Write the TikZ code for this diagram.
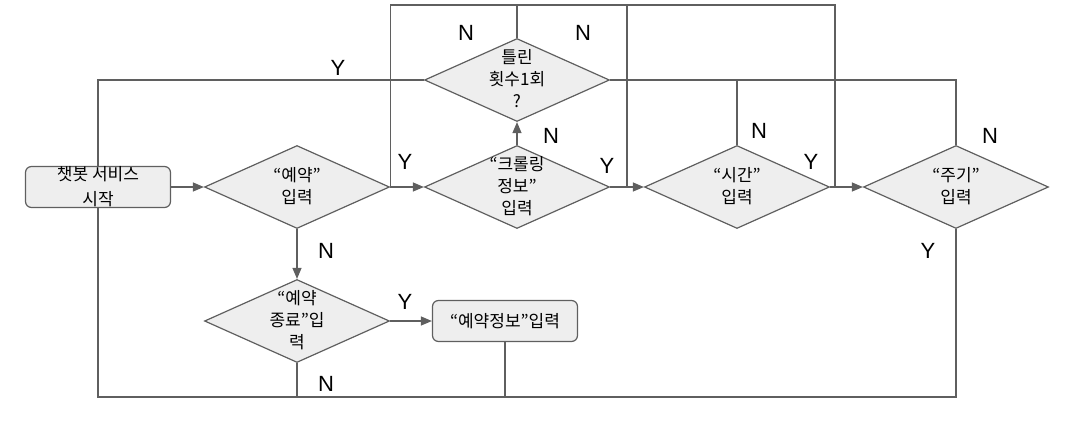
\documentclass[tikz,border=0pt]{standalone}
\usepackage{fontspec}
\setmainfont{Liberation Sans}
\newfontfamily\kr{Noto Sans CJK KR}
\usetikzlibrary{shapes.geometric,arrows.meta}
\definecolor{linegray}{HTML}{5F5F5F}
\definecolor{boxgray}{HTML}{EEEEEE}
\newcommand{\dtxt}[1]{\smash{\raisebox{-5pt}{\makebox[0pt]{\begin{tabular}{@{}c@{}}#1\end{tabular}}}}}
\begin{document}
\begin{tikzpicture}[x=1pt,y=-1pt,
				decision/.style={diamond,draw=linegray,fill=boxgray,line width=1.2pt,inner sep=0pt,
					minimum width=185pt,minimum height=83pt,font=\kr\fontsize{17}{22}\selectfont},
				startbox/.style={rectangle,rounded corners=6pt,draw=linegray,fill=boxgray,line width=1.2pt,
					minimum width=145pt,minimum height=41pt,inner sep=0pt,align=center,font=\kr\fontsize{17}{25}\selectfont},
				yn/.style={inner sep=0pt,font=\fontsize{22}{22}\selectfont},
				wire/.style={draw=linegray,line width=1.2pt},
				flow/.style={wire,-{Triangle[length=11pt,width=9pt]}}]
\useasboundingbox (0,0) rectangle (1071,421);
\node[startbox] (start) at (98,187) {챗봇 서비스\\시작};
\node[decision] (d1) at (297,187) {\dtxt{“예약”\\입력}};
\node[decision] (d2) at (517,187) {\dtxt{“크롤링\\정보”\\입력}};
\node[decision] (d3) at (517,80) {\dtxt{틀린\\횟수1회\\?}};
\node[decision] (d4) at (737,187) {\dtxt{“시간”\\입력}};
\node[decision] (d5) at (956,187) {\dtxt{“주기”\\입력}};
\node[decision] (d6) at (297,321) {\dtxt{“예약\\종료”입\\력}};
\node[startbox] (info) at (505,321) {“예약정보”입력};
\coordinate (topL) at (388,5);
\coordinate (topM) at (627,5);
\coordinate (topR) at (835,5);
\coordinate (bot) at (98,397);
\draw[flow] (start.east) -- (d1.west);
\draw[flow] (d1.east) -- (d2.west);
\draw[flow] (d2.east) -- (d4.west);
\draw[flow] (d4.east) -- (d5.west);
\draw[flow] (d2.north) -- (d3.south);
\draw[flow] (d1.south) -- (d6.north);
\draw[flow] (d6.east) -- (info.west);
\draw[wire] (d1.east) -- (d1.east |- topL) -- (topR) -- (topR |- d4.east);
\draw[wire] (topM) -- (topM |- d2.east);
\draw[wire] (d3.north) -- (d3.north |- topL);
\draw[wire] (d3.west) -| (start.north);
\draw[wire] (d3.east) -| (d5.north);
\draw[wire] (d4.north) -- (d4.north |- d3.east);
\draw[wire] (start.south) -- (bot) -| (d5.south);
\draw[wire] (d6.south) -- (d6.south |- bot);
\draw[wire] (info.south) -- (info.south |- bot);
\node[yn] (y1) at (338,68) {Y};
\node[yn] (n1) at (466,33) {N};
\node[yn] (n2) at (583,33) {N};
\node[yn] (y2) at (405,162) {Y};
\node[yn] (n3) at (551,136) {N};
\node[yn] (y3) at (607,166) {Y};
\node[yn] (n4) at (759,131) {N};
\node[yn] (y4) at (811,162) {Y};
\node[yn] (n5) at (990,136) {N};
\node[yn] (y5) at (928,251) {Y};
\node[yn] (n6) at (326,251) {N};
\node[yn] (y6) at (405,302) {Y};
\node[yn] (n7) at (326,384) {N};
\end{tikzpicture}
\end{document}
